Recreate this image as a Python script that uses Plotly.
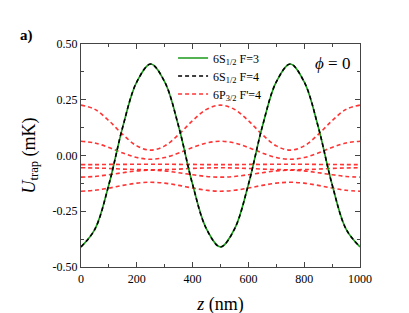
import plotly.graph_objects as go

z_nm = [0, 50, 100, 150, 200, 250, 300, 350, 400, 450, 500,
        550, 600, 650, 700, 750, 800, 850, 900, 950, 1000]

# ground states (6S1/2 F=3 and F=4 overlap)
s_f3 = [-0.41, -0.33, -0.13, 0.13, 0.33, 0.41, 0.33, 0.13, -0.13, -0.33, -0.41,
        -0.33, -0.13, 0.13, 0.33, 0.41, 0.33, 0.13, -0.13, -0.33, -0.41]
s_f4 = s_f3

# excited-state sublevels 6P3/2 F'=4 (values for z = 0..250 nm, curve is symmetric)
half_a = [0.226, 0.207, 0.156, 0.094, 0.043, 0.024]
half_b = [0.064, 0.056, 0.036, 0.011, -0.009, -0.017]
half_c = [-0.041, -0.041, -0.040, -0.040, -0.039, -0.039]
half_d = [-0.055, -0.056, -0.058, -0.061, -0.063, -0.064]
half_e = [-0.097, -0.094, -0.086, -0.077, -0.069, -0.066]
half_f = [-0.160, -0.156, -0.146, -0.134, -0.124, -0.120]


def full(h):
    one = h + h[-2::-1]          # 0..500
    return one + one[1:]         # 0..1000


p_levels = [full(h) for h in (half_a, half_b, half_c, half_d, half_e, half_f)]

legend_names = ["6S<sub>1/2</sub> F=3", "6S<sub>1/2</sub> F=4", "6P<sub>3/2</sub> F'=4"]

SERIF = "Liberation Serif"

fig = go.Figure()
for i, vals in enumerate(p_levels):
    fig.add_trace(go.Scatter(
        x=z_nm, y=vals, mode="lines", line_shape="spline",
        line=dict(color="rgba(255,30,30,0.9)", width=1.6, dash="4px,3px"),
        name=legend_names[2], showlegend=(i == 0), legend="legend3"))

fig.add_trace(go.Scatter(x=z_nm, y=s_f3, mode="lines", line_shape="spline",
                         line=dict(color="#1a9a1a", width=1.6),
                         name=legend_names[0], legend="legend"))
fig.add_trace(go.Scatter(x=z_nm, y=s_f4, mode="lines", line_shape="spline",
                         line=dict(color="black", width=1.6, dash="4px,3px"),
                         name=legend_names[1], legend="legend2"))

axis_common = dict(
    showline=True, linecolor="#444", linewidth=1.2, mirror="ticks",
    ticks="inside", ticklen=5, tickcolor="#444", tickwidth=1,
    showgrid=False, zeroline=False,
    tickfont=dict(family=SERIF, size=12, color="black"),
)

fig.update_xaxes(range=[0, 1000], tickvals=[0, 200, 400, 600, 800, 1000],
                 minor=dict(ticks="inside", ticklen=3, dtick=100, tickcolor="#444"),
                 title=dict(text="<i>z</i> (nm)", font=dict(family=SERIF, size=18, color="black"),
                            standoff=12),
                 **axis_common)
fig.update_yaxes(range=[-0.5, 0.5], tickvals=[-0.5, -0.25, 0, 0.25, 0.5],
                 ticktext=["-0.50", "-0.25", "0.00", "0.25", "0.50"],
                 minor=dict(ticks="inside", ticklen=3, dtick=0.125, tickcolor="#444"),
                 title=dict(text="<i>U</i><sub>trap</sub> (mK)",
                            font=dict(family=SERIF, size=18, color="black"), standoff=12),
                 **axis_common)

# plot area spans x 73..352 px, y 36..259 px
fig.add_annotation(x=(10 - 73) / 279, y=(259 - 27) / 223, xref="paper", yref="paper",
                   text="<b>a)</b>", showarrow=False, xanchor="left", yanchor="middle",
                   font=dict(family=SERIF, size=15, color="black"))
fig.add_annotation(x=(344 - 73) / 279, y=(259 - 55) / 223, xref="paper", yref="paper",
                   text="<i>ϕ</i> = 0", showarrow=False, xanchor="right", yanchor="middle",
                   font=dict(family=SERIF, size=17, color="black"))


def leg(row_px):
    return dict(x=0.33, y=(259 - row_px) / 223, xanchor="left", yanchor="middle",
                bgcolor="rgba(0,0,0,0)", font=dict(family=SERIF, size=12, color="black"),
                itemwidth=30)


fig.update_layout(
    width=409, height=313,
    margin=dict(l=73, r=57, t=36, b=54),
    paper_bgcolor="white", plot_bgcolor="white",
    showlegend=True,
    legend=leg(50), legend2=leg(68), legend3=leg(86),
)

fig.write_html("out.html")
